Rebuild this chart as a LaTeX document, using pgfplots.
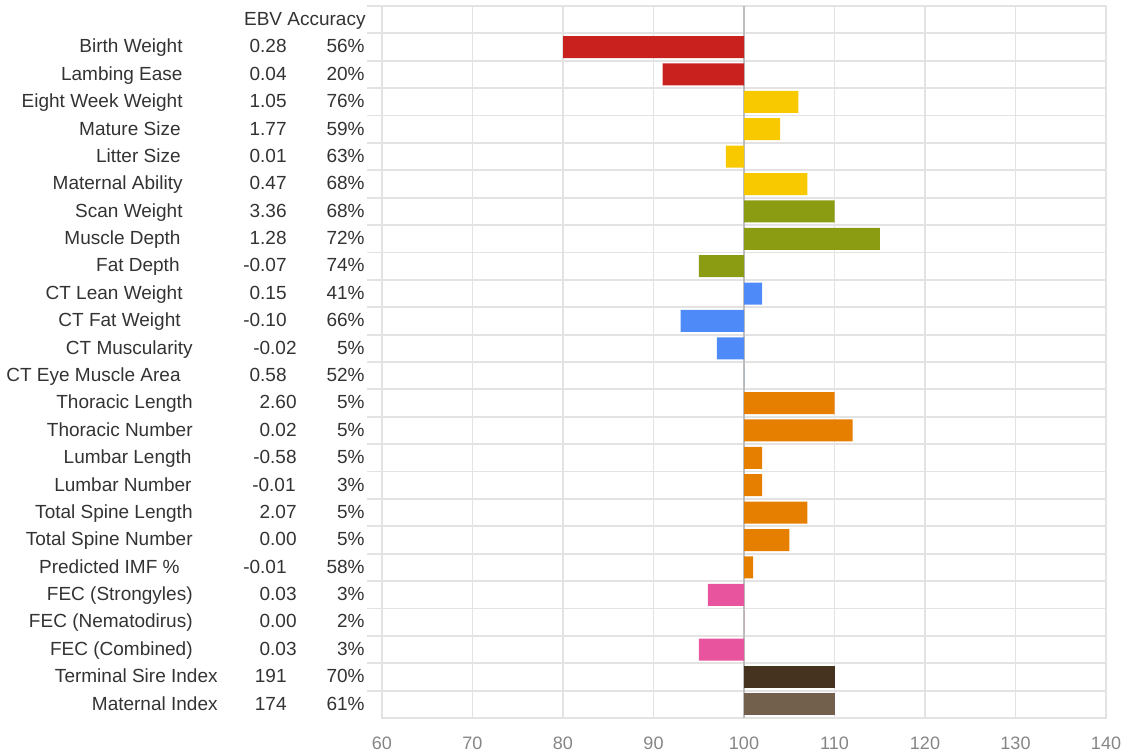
\documentclass[border=0pt]{standalone}
\usepackage{pgfplots}
\pgfplotsset{compat=1.18}
\usepackage{fontspec}
\setmainfont{Liberation Sans}

\definecolor{gridgray}{HTML}{E3E3E3}
\definecolor{zeroline}{HTML}{BDBDBD}
\definecolor{tickgray}{HTML}{858585}
\definecolor{txt}{HTML}{333333}
\definecolor{cred}{HTML}{C9211E}
\definecolor{cyellow}{HTML}{F9C900}
\definecolor{colive}{HTML}{8B9B12}
\definecolor{cblue}{HTML}{4E8BF9}
\definecolor{corange}{HTML}{E67F00}
\definecolor{cpink}{HTML}{E8559E}
\definecolor{cdark}{HTML}{46331F}
\definecolor{cbrown}{HTML}{725F4C}

% one row of the text columns: y, name, x of name, EBV, x of EBV, accuracy
\newcommand{\trow}[6]{%
  \node[anchor=base east,inner sep=0pt,yshift=-2.9pt,text=txt,font=\fontsize{9.5}{11}\selectfont] at (axis cs:#3,#1) {#2};
  \node[anchor=base east,inner sep=0pt,yshift=-2.9pt,text=txt,font=\fontsize{9.5}{11}\selectfont] at (axis cs:#5,#1) {#4};
  \node[anchor=base east,inner sep=0pt,yshift=-2.9pt,text=txt,font=\fontsize{9.5}{11}\selectfont] at (axis cs:-41.88,#1) {#6};
}

\begin{document}
\begin{tikzpicture}
\path[use as bounding box] (0,0) rectangle (564.5pt,377pt);
\begin{axis}[
  at={(191pt,18pt)}, anchor=south west,
  scale only axis, width=362pt, height=356pt,
  xmin=-40, xmax=40, ymin=-0.5, ymax=25.5, y dir=reverse,
  xtick={-40,-30,...,40},
  xticklabels={60,70,80,90,100,110,120,130,140},
  ytick={-0.5,0.5,...,24.5},
  yticklabels={},
  grid=major,
  major grid style={gridgray, line width=0.9pt},
  axis line style={gridgray, line width=0.9pt},
  xtick style={draw=none},
  ytick style={gridgray, line width=0.9pt},
  ytick pos=left, tick align=outside, major tick length=7.5pt,
  xticklabel style={font=\fontsize{9}{10}\selectfont, text=tickgray, yshift=1.5pt},
  extra x ticks={0}, extra x tick labels={},
  extra x tick style={grid=major, major grid style={zeroline, line width=0.9pt}},
  clip=false,
]
\addplot[xbar, bar width=11pt, bar shift=0pt, fill=cred, draw=none]
  table[x expr=\thisrow{v}-100, y=row] {
row v
1 80
2 91
};
\addplot[xbar, bar width=11pt, bar shift=0pt, fill=cyellow, draw=none]
  table[x expr=\thisrow{v}-100, y=row] {
row v
3 106
4 104
5 98
6 107
};
\addplot[xbar, bar width=11pt, bar shift=0pt, fill=colive, draw=none]
  table[x expr=\thisrow{v}-100, y=row] {
row v
7 110
8 115
9 95
};
\addplot[xbar, bar width=11pt, bar shift=0pt, fill=cblue, draw=none]
  table[x expr=\thisrow{v}-100, y=row] {
row v
10 102
11 93
12 97
13 100
};
\addplot[xbar, bar width=11pt, bar shift=0pt, fill=corange, draw=none]
  table[x expr=\thisrow{v}-100, y=row] {
row v
14 110
15 112
16 102
17 102
18 107
19 105
20 101
};
\addplot[xbar, bar width=11pt, bar shift=0pt, fill=cpink, draw=none]
  table[x expr=\thisrow{v}-100, y=row] {
row v
21 96
22 100
23 95
};
\addplot[xbar, bar width=11pt, bar shift=0pt, fill=cdark, draw=none]
  table[x expr=\thisrow{v}-100, y=row] {
row v
24 110
};
\addplot[xbar, bar width=11pt, bar shift=0pt, fill=cbrown, draw=none]
  table[x expr=\thisrow{v}-100, y=row] {
row v
25 110
};

\node[anchor=base east,inner sep=0pt,yshift=-2.9pt,text=txt,font=\fontsize{9.5}{11}\selectfont] at (axis cs:-41.77,0) {EBV Accuracy};
\trow{1}{Birth Weight}{-61.99}{0.28}{-50.50}{56\%}
\trow{2}{Lambing Ease}{-61.99}{0.04}{-50.50}{20\%}
\trow{3}{Eight Week Weight}{-61.99}{1.05}{-50.50}{76\%}
\trow{4}{Mature Size}{-62.21}{1.77}{-50.50}{59\%}
\trow{5}{Litter Size}{-62.21}{0.01}{-50.50}{63\%}
\trow{6}{Maternal Ability}{-61.99}{0.47}{-50.50}{68\%}
\trow{7}{Scan Weight}{-61.99}{3.36}{-50.50}{68\%}
\trow{8}{Muscle Depth}{-62.21}{1.28}{-50.50}{72\%}
\trow{9}{Fat Depth}{-62.32}{-0.07}{-50.50}{74\%}
\trow{10}{CT Lean Weight}{-61.99}{0.15}{-50.50}{41\%}
\trow{11}{CT Fat Weight}{-62.21}{-0.10}{-50.50}{66\%}
\trow{12}{CT Muscularity}{-60.88}{-0.02}{-49.39}{5\%}
\trow{13}{CT Eye Muscle Area}{-62.21}{0.58}{-50.50}{52\%}
\trow{14}{Thoracic Length}{-60.88}{2.60}{-49.39}{5\%}
\trow{15}{Thoracic Number}{-60.88}{0.02}{-49.39}{5\%}
\trow{16}{Lumbar Length}{-61.00}{-0.58}{-49.39}{5\%}
\trow{17}{Lumbar Number}{-61.00}{-0.01}{-49.50}{3\%}
\trow{18}{Total Spine Length}{-60.88}{2.07}{-49.39}{5\%}
\trow{19}{Total Spine Number}{-60.88}{0.00}{-49.39}{5\%}
\trow{20}{Predicted IMF \%}{-62.32}{-0.01}{-50.50}{58\%}
\trow{21}{FEC (Strongyles)}{-60.88}{0.03}{-49.39}{3\%}
\trow{22}{FEC (Nematodirus)}{-60.88}{0.00}{-49.39}{2\%}
\trow{23}{FEC (Combined)}{-60.88}{0.03}{-49.39}{3\%}
\trow{24}{Terminal Sire Index}{-58.12}{191}{-50.50}{70\%}
\trow{25}{Maternal Index}{-58.12}{174}{-50.50}{61\%}
\end{axis}
\end{tikzpicture}
\end{document}
